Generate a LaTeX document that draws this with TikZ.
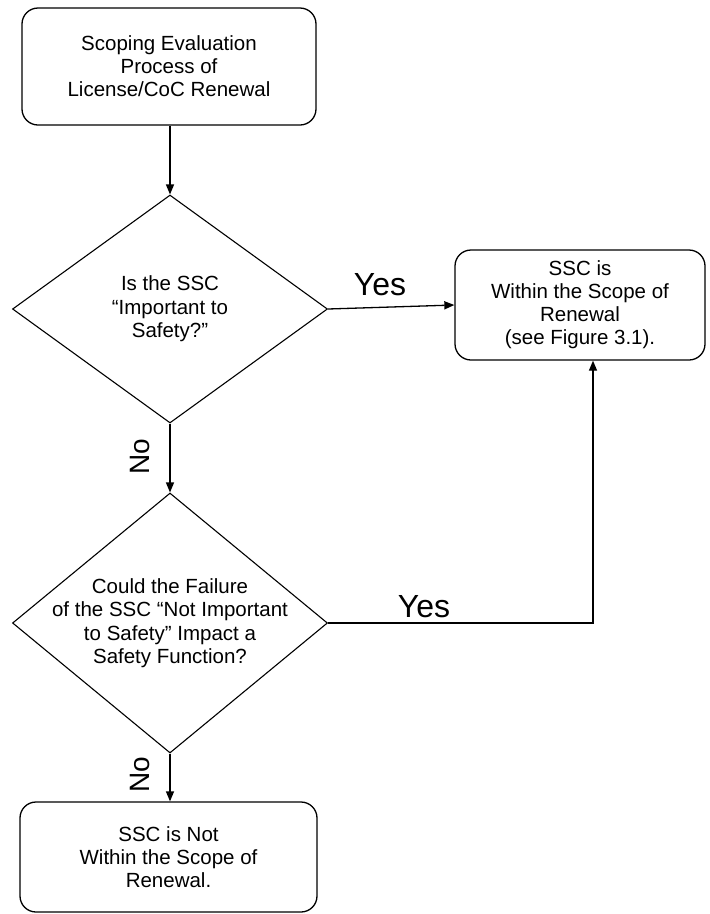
\documentclass[tikz,border=0pt]{standalone}
\usepackage{fontspec}
\setmainfont{Liberation Sans}
\usetikzlibrary{shapes.geometric,arrows.meta}
\begin{document}
\begin{tikzpicture}[x=1pt,y=-1pt,
  box/.style={draw,line width=1.3pt,rounded corners=16pt,align=center,inner sep=0pt,
    font=\fontsize{20.5}{23}\selectfont},
  dec/.style={draw,line width=1.1pt,diamond,inner sep=0pt},
  dtext/.style={align=center,inner sep=0pt,font=\fontsize{20.5}{23.5}\selectfont},
  conn/.style={line width=1.3pt,-{Triangle[length=10pt,width=8pt]}},
  lab/.style={font=\fontsize{32}{32}\selectfont,inner sep=0pt},
  nolab/.style={font=\fontsize{28}{28}\selectfont,inner sep=0pt,rotate=90}]
\useasboundingbox (0,0) rectangle (710,914);
\node[box,minimum width=294pt,minimum height=117pt] (start) at (169,66.5)
  {Scoping Evaluation\\Process of\\License/CoC Renewal};
\node[dec,minimum width=315pt,minimum height=228pt] (d1) at (170,309) {};
\node[dtext] (t1) at (d1.center) {Is the SSC\\``Important to\\Safety?''};
\node[box,minimum width=250pt,minimum height=110pt] (in) at (580,305)
  {SSC is\\Within the Scope of\\Renewal\\(see Figure 3.1).};
\node[dec,minimum width=315pt,minimum height=260pt] (d2) at (170,623) {};
\node[dtext] (t2) at (d2.center)
  {Could the Failure\\of the SSC ``Not Important\\to Safety'' Impact a\\Safety Function?};
\node[box,minimum width=297pt,minimum height=110pt] (out) at (168.5,857)
  {SSC is Not\\Within the Scope of\\Renewal.};
\draw[conn] (d1.north |- start.south) -- (d1.north);
\draw[conn] (d1.east) -- (in.west);
\draw[conn] (d1.south) -- (d2.north);
\draw[conn] (d2.east) -| ([xshift=13pt]in.south);
\draw[conn] (d2.south) -- (d2.south |- out.north);
\node[lab] (y1) at (380,285) {Yes};
\node[lab] (y2) at (424,607) {Yes};
\node[nolab] (n1) at (140,457) {No};
\node[nolab] (n2) at (140,775) {No};
\end{tikzpicture}
\end{document}
